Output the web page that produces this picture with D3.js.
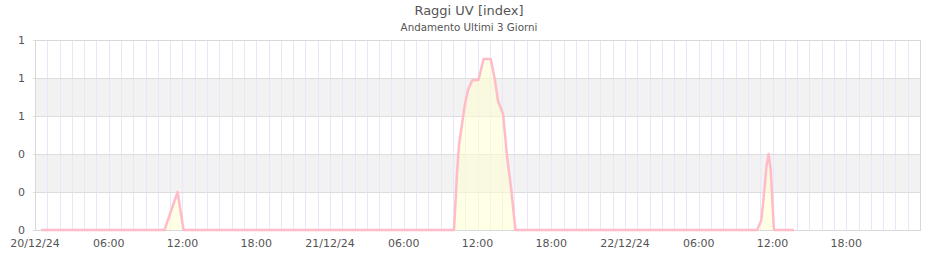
<!DOCTYPE html>
<html><head><meta charset="utf-8">
<script src="https://cdn.jsdelivr.net/npm/d3@7/dist/d3.min.js"></script>
<style>body{margin:0;background:#fff}svg{display:block}text{font-family:"DejaVu Sans",sans-serif;fill:#555}</style>
</head><body><svg id="c" width="940" height="260"></svg>
<script>
const title = "Raggi UV [index]";
const subtitle = "Andamento Ultimi 3 Giorni";
const times = ["2024-12-20 00:30","2024-12-20 10:32","2024-12-20 11:36","2024-12-20 12:05",
 "2024-12-21 10:05","2024-12-21 10:10","2024-12-21 10:20","2024-12-21 10:30","2024-12-21 10:50","2024-12-21 11:00",
 "2024-12-21 11:15","2024-12-21 11:35","2024-12-21 12:05","2024-12-21 12:30","2024-12-21 13:05","2024-12-21 13:25",
 "2024-12-21 13:40","2024-12-21 14:05","2024-12-21 14:25","2024-12-21 14:45","2024-12-21 15:05",
 "2024-12-22 10:45","2024-12-22 11:05","2024-12-22 11:12","2024-12-22 11:22","2024-12-22 11:30","2024-12-22 11:41",
 "2024-12-22 11:51","2024-12-22 11:59","2024-12-22 12:07","2024-12-22 13:45"];
const uvValues = [0,0,0.2,0,
 0,0.09,0.3,0.45,0.6,0.67,
 0.74,0.79,0.79,0.9,0.9,0.79,
 0.68,0.61,0.38,0.21,0,
 0,0.05,0.12,0.23,0.33,0.4,
 0.32,0.16,0,0];
const yTicks = [0,0.2,0.4,0.6,0.8,1.0];
const domainStart = "2024-12-20 00:00", domainEnd = "2024-12-23 00:00";

const parse = d3.timeParse("%Y-%m-%d %H:%M");
const data = times.map((t,i)=>({t:parse(t), v:uvValues[i]}));
const L=35,R=920,T=40,B=230;
const svg = d3.select("#c");
const x = d3.scaleTime().domain([parse(domainStart),parse(domainEnd)]).range([L,R]);
const y = d3.scaleLinear().domain([0,1]).range([B,T]);

// bands
for (let i=1;i<yTicks.length-1;i+=2){
  svg.append("rect").attr("x",L).attr("width",R-L)
    .attr("y",y(yTicks[i+1])).attr("height",y(yTicks[i])-y(yTicks[i+1])).attr("fill","#f2f2f2");
}
// vertical hourly grid
svg.append("g").selectAll("line").data(x.ticks(d3.timeHour.every(1))).join("line")
  .attr("x1",d=>Math.round(x(d))+0.5).attr("x2",d=>Math.round(x(d))+0.5).attr("y1",T).attr("y2",B)
  .attr("stroke","#e8e6f8").attr("stroke-width",1);
// horizontal grid
svg.append("g").selectAll("line").data(yTicks).join("line")
  .attr("x1",L-2).attr("x2",R).attr("y1",d=>Math.round(y(d))+0.5).attr("y2",d=>Math.round(y(d))+0.5)
  .attr("stroke","#dddddd");
// frame
svg.append("rect").attr("x",L+0.5).attr("y",T+0.5).attr("width",R-L).attr("height",B-T)
  .attr("fill","none").attr("stroke","#d8d8d8");

// area + line
svg.append("path").datum(data)
  .attr("d",d3.area().x(d=>x(d.t)).y0(y(0)).y1(d=>y(d.v)))
  .attr("fill","#ffffd0").attr("fill-opacity",0.55);
svg.append("path").datum(data)
  .attr("d",d3.line().x(d=>x(d.t)).y(d=>y(d.v)))
  .attr("fill","none").attr("stroke","#ffbcc8").attr("stroke-width",2.5).attr("stroke-linejoin","round");

// y labels
const yfmt = d3.format(".0f");
svg.append("g").selectAll("text").data(yTicks).join("text")
  .attr("x",25).attr("y",d=>y(d)).attr("dy","0.35em").attr("text-anchor","end")
  .attr("font-size",11).text(d=>yfmt(d));
// x labels
const xt = x.ticks(d3.timeHour.every(6)).filter(d=>d<x.domain()[1]);
const fmtDay = d3.timeFormat("%d/%m/%y"), fmtHour = d3.timeFormat("%H:%M");
svg.append("g").selectAll("text").data(xt).join("text")
  .attr("x",d=>x(d)).attr("y",247).attr("text-anchor","middle").attr("font-size",11)
  .text(d=>d.getHours()===0?fmtDay(d):fmtHour(d));

svg.append("text").attr("x",469).attr("y",15).attr("text-anchor","middle").attr("font-size",13).text(title);
svg.append("text").attr("x",469).attr("y",31).attr("text-anchor","middle").attr("font-size",10.3).text(subtitle);
</script></body></html>
